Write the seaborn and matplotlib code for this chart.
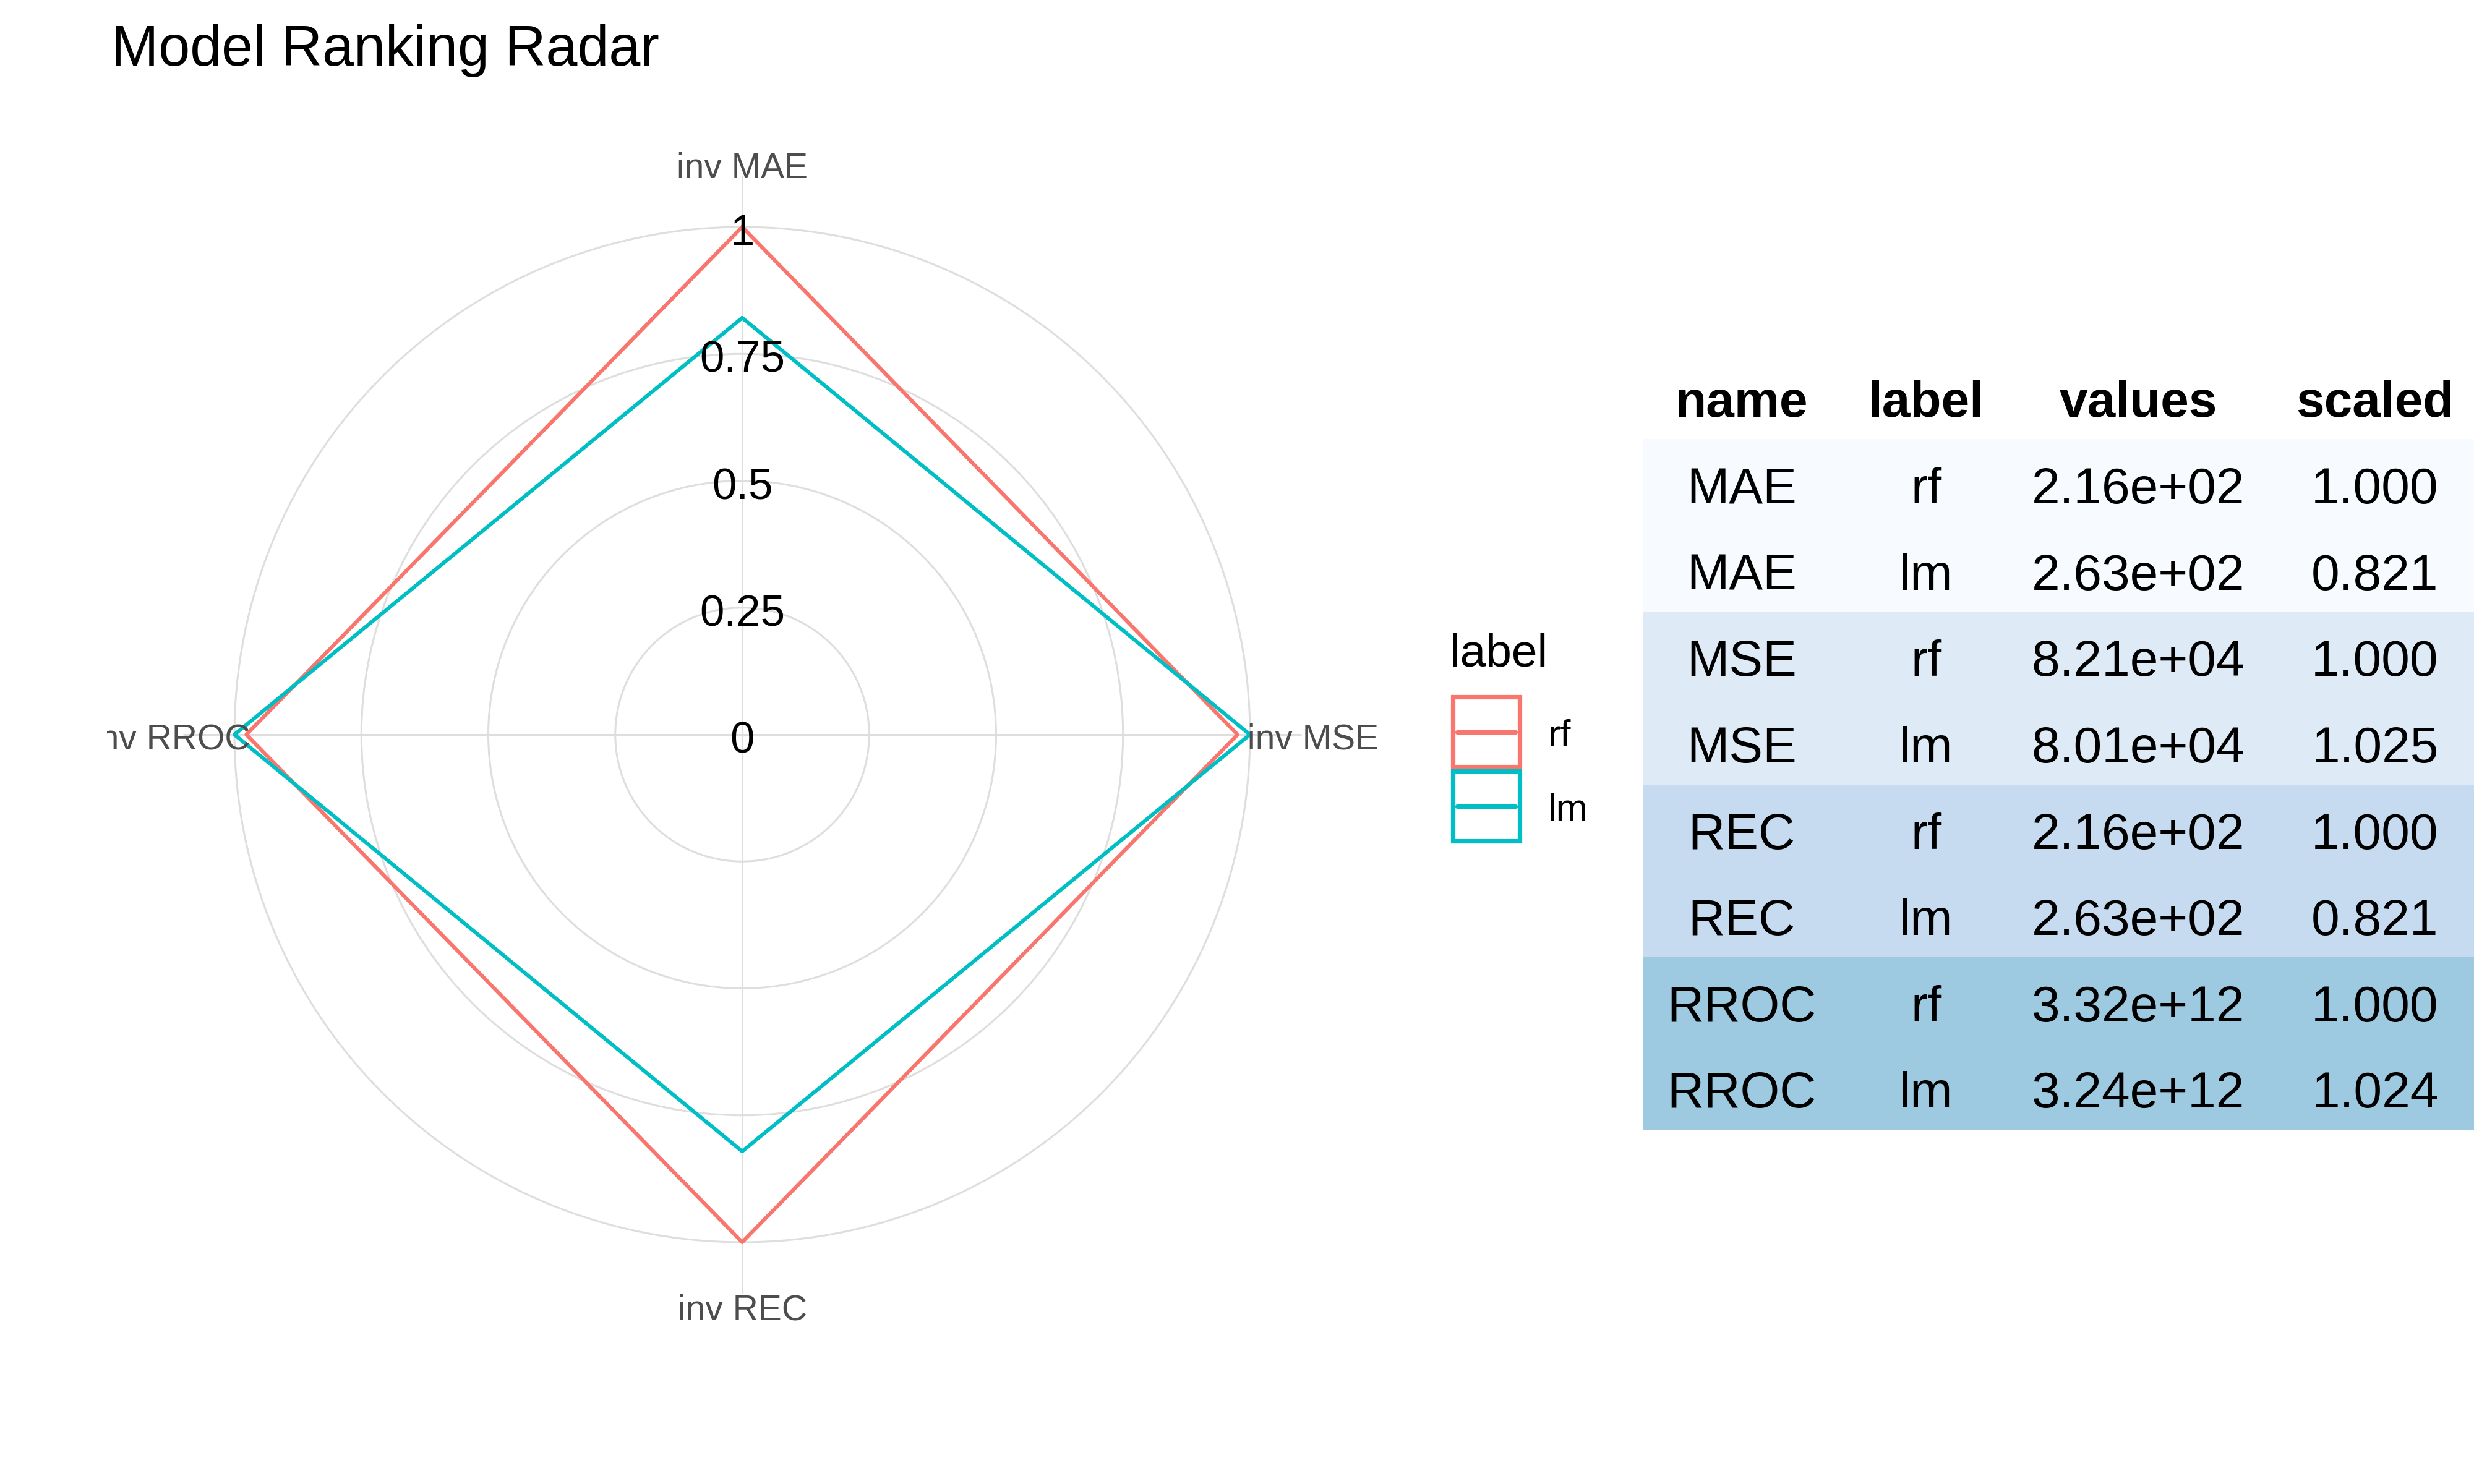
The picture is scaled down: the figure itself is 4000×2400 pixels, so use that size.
import numpy as np
import pandas as pd
import matplotlib
matplotlib.use("Agg")
import matplotlib.pyplot as plt
from matplotlib.patches import Rectangle
from matplotlib.lines import Line2D
from matplotlib.transforms import offset_copy
import seaborn as sns

# data
metrics = ["MAE", "MSE", "REC", "RROC"]
axis_labels = ["inv MAE", "inv MSE", "inv REC", "inv RROC"]
models = ["rf", "lm"]
rf_values = [2.16e2, 8.21e4, 2.16e2, 3.32e12]
lm_values = [2.63e2, 8.01e4, 2.63e2, 3.24e12]
rf_scaled = [1.000, 1.000, 1.000, 1.000]
lm_scaled = [0.821, 1.025, 0.821, 1.024]
r_ticks = [0, 0.25, 0.5, 0.75, 1]
r_tick_labels = ["0", "0.25", "0.5", "0.75", "1"]

model_colors = {"rf": "#F8766D", "lm": "#00BFC4"}
band_colors = ["#F7FBFF", "#DEEBF7", "#C6DBEF", "#9ECAE1"]

sns.set_theme(style="white")
plt.rcParams["font.family"] = ["Liberation Sans", "DejaVu Sans"]
plt.rcParams["text.color"] = "black"

W, H = 4000, 2400
fig = plt.figure(figsize=(20, 12), dpi=200)


def fx(px):
    return px / W


def fy(py):
    return 1 - py / H


# radar: each metric normalised to its best model
theta = np.arange(len(metrics)) * 2 * np.pi / len(metrics)
best = np.maximum(rf_scaled, lm_scaled)
rows = []
for name, sc in [("rf", rf_scaled), ("lm", lm_scaled)]:
    r = np.array(sc) / best
    for t, v in zip(list(theta) + [2 * np.pi], list(r) + [r[0]]):
        rows.append({"label": name, "theta": t, "r": v})
radar = pd.DataFrame(rows)

cx, cy, rad = 1200, 1188, 1027
rmax = 1.251
ax = fig.add_axes([fx(cx - rad), fy(cy + rad), 2 * rad / W, 2 * rad / H], projection="polar")
ax.set_theta_zero_location("N")
ax.set_theta_direction(-1)

for t in theta:
    ax.plot([t, t], [0, 1.10], color="#DEDEDE", lw=1.1, zorder=1)

sns.lineplot(data=radar, x="theta", y="r", hue="label", hue_order=models,
             palette=model_colors, sort=False, estimator=None, legend=False,
             linewidth=2.2, ax=ax, zorder=3)

ax.set_rlim(0, rmax)
ax.set_xticks([])
ax.set_yticks(r_ticks[1:])
ax.set_yticklabels([])
ax.yaxis.grid(True, color="#DEDEDE", lw=1.1)
ax.spines["polar"].set_visible(False)
ax.set_xlabel("")
ax.set_ylabel("")

down = offset_copy(ax.transData, fig=fig, x=0, y=-4.2, units="points")
for v, lab in zip(r_ticks, r_tick_labels):
    ax.text(0, v, lab, ha="center", va="center", fontsize=25.5, color="black",
            zorder=5, transform=down)

down2 = offset_copy(ax.transData, fig=fig, x=0, y=-3.0, units="points")
for t, lab in zip(theta, axis_labels):
    txt = ax.text(t, 1.125, lab, ha="center", va="center", fontsize=20.5,
                  color="#4D4D4D", zorder=4, transform=down2)
    txt.set_clip_box(ax.bbox)
    txt.set_clip_on(True)

# title
fig.text(fx(180), fy(106), "Model Ranking Radar", fontsize=33, va="baseline", color="black")

# legend
fig.text(fx(2344), fy(1078), "label", fontsize=27, va="baseline")
for i, name in enumerate(models):
    top = 1127 + i * 120
    fig.add_artist(Rectangle((fx(2349), fy(top + 113)), 108 / W, 113 / H,
                             transform=fig.transFigure, fill=False,
                             edgecolor=model_colors[name], lw=2.6))
    ymid = top + 57
    fig.add_artist(Line2D([fx(2356), fx(2450)], [fy(ymid), fy(ymid)],
                          transform=fig.transFigure, color=model_colors[name], lw=2.6))
    fig.text(fx(2503), fy(top + 80), name, fontsize=22, va="baseline")

# table
row_h = 139.6
t_top, t_bot = 710 - row_h, 1827
tax = fig.add_axes([fx(2656), fy(t_bot), (W - 2656) / W, (t_bot - t_top) / H])
tax.set_xlim(2656, 4000)
tax.set_ylim(8, -1)
tax.axis("off")

col_x = [2816, 3114, 3457, 3840]
headers = ["name", "label", "values", "scaled"]
base_off = 104 / row_h
for x, h in zip(col_x, headers):
    tax.text(x, -1 + base_off, h, ha="center", va="baseline", fontsize=29.5, fontweight="bold")

for g, m in enumerate(metrics):
    tax.axhspan(2 * g, 2 * g + 2, color=band_colors[g], lw=0)
    entries = [(models[0], rf_values[g], rf_scaled[g]), (models[1], lm_values[g], lm_scaled[g])]
    for k, (lab, val, sc) in enumerate(entries):
        yb = 2 * g + k + base_off
        cells = [m, lab, f"{val:.2e}", f"{sc:.3f}"]
        for x, c in zip(col_x, cells):
            tax.text(x, yb, c, ha="center", va="baseline", fontsize=29.5)

fig.savefig("out.png", dpi=200, facecolor="white")
